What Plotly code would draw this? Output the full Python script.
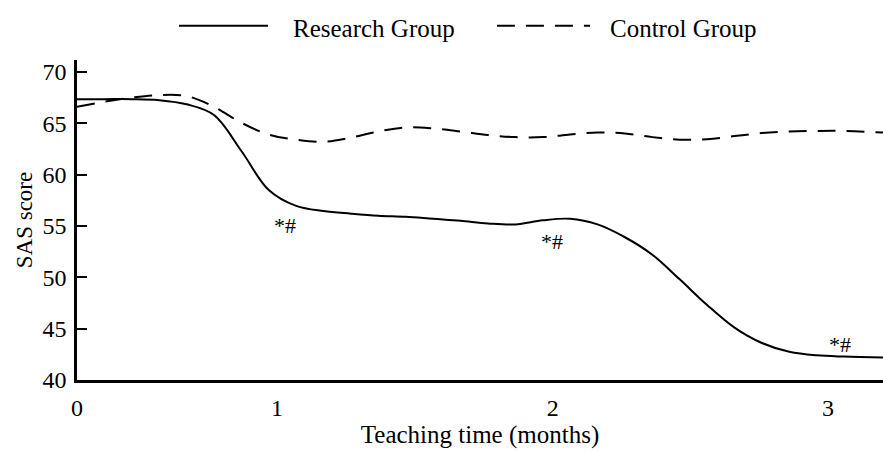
import plotly.graph_objects as go

# x positions in plot units (tick "1" ~0.73, "2" ~1.737, "3" ~2.741 as drawn in the source)
sample_x = [0.0, 0.1, 0.2, 0.3, 0.4, 0.5, 0.6, 0.7, 0.8, 0.9, 1.0, 1.1, 1.2, 1.3, 1.4, 1.5,
            1.6, 1.7, 1.8, 1.9, 2.0, 2.1, 2.2, 2.3, 2.4, 2.5, 2.6, 2.7, 2.8, 2.942]
research_y = [67.35, 67.35, 67.35, 67.25, 66.85, 65.8, 62.3, 58.5, 56.95, 56.45, 56.2, 56.0,
              55.9, 55.7, 55.5, 55.25, 55.15, 55.55, 55.7, 55.15, 53.9, 52.2, 49.8, 47.3,
              45.1, 43.6, 42.75, 42.4, 42.28, 42.2]
control_y = [66.6, 67.1, 67.5, 67.75, 67.65, 66.6, 65.05, 63.9, 63.4, 63.2, 63.6, 64.2,
             64.6, 64.5, 64.2, 63.85, 63.65, 63.65, 63.9, 64.1, 64.0, 63.65, 63.4, 63.45,
             63.75, 64.05, 64.2, 64.25, 64.25, 64.1]

tick_positions = [0, 0.730, 1.737, 2.741]
tick_labels = ["0", "1", "2", "3"]
y_ticks = [40, 45, 50, 55, 60, 65, 70]

sig_x = [0.759, 1.734, 2.785]
sig_y = [55.0, 53.5, 43.5]
sig_text = ["*#", "*#", "*#"]

series_names = ["Research Group", "Control Group"]

FONT = "Liberation Serif"

fig = go.Figure()
fig.add_trace(go.Scatter(x=sample_x, y=research_y, mode="lines", name=series_names[0],
                         line=dict(color="black", width=2, shape="spline", smoothing=1.0),
                         showlegend=False))
fig.add_trace(go.Scatter(x=sample_x, y=control_y, mode="lines", name=series_names[1],
                         line=dict(color="black", width=2, dash="18px,11px", shape="spline",
                                   smoothing=1.0),
                         showlegend=False))

annotations = []
for sx, sy, st in zip(sig_x, sig_y, sig_text):
    annotations.append(dict(x=sx, y=sy, xref="x", yref="y", text=st, showarrow=False,
                            font=dict(family=FONT, size=22, color="black")))

# custom legend (long line samples as in the source)
shapes = [
    dict(type="line", xref="paper", yref="paper", x0=0.1266, x1=0.2370, y0=1.107, y1=1.107,
         line=dict(color="black", width=2)),
    dict(type="line", xref="paper", yref="paper", x0=0.521, x1=0.6365, y0=1.107, y1=1.107,
         line=dict(color="black", width=2, dash="18px,11px")),
]
annotations.append(dict(x=0.266, y=1.097, xref="paper", yref="paper", text=series_names[0],
                        showarrow=False, xanchor="left", yanchor="middle",
                        font=dict(family=FONT, size=25, color="black")))
annotations.append(dict(x=0.659, y=1.097, xref="paper", yref="paper", text=series_names[1],
                        showarrow=False, xanchor="left", yanchor="middle",
                        font=dict(family=FONT, size=25, color="black")))

fig.update_layout(
    width=883, height=452,
    margin=dict(l=77, r=0, t=60, b=72),
    plot_bgcolor="white", paper_bgcolor="white",
    font=dict(family=FONT, size=24, color="black"),
    showlegend=False,
    annotations=annotations,
    shapes=shapes,
    xaxis=dict(range=[0, 2.942], tickvals=tick_positions, ticktext=tick_labels,
               showline=True, linecolor="black", linewidth=2.5, ticks="",
               showgrid=False, zeroline=False, ticklabelstandoff=4,
               title=dict(text="Teaching time (months)", font=dict(size=25), standoff=0)),
    yaxis=dict(range=[40, 71.16], tickvals=y_ticks,
               showline=True, linecolor="black", linewidth=2.5, ticks="inside",
               ticklen=10, tickwidth=2, tickcolor="black",
               showgrid=False, zeroline=False, ticklabelstandoff=3,
               title=dict(text="SAS score", font=dict(size=23), standoff=4)),
)

fig.write_html("out.html", config={"displayModeBar": False},
               post_script="document.body.style.margin='0';document.body.style.overflow='hidden';")
